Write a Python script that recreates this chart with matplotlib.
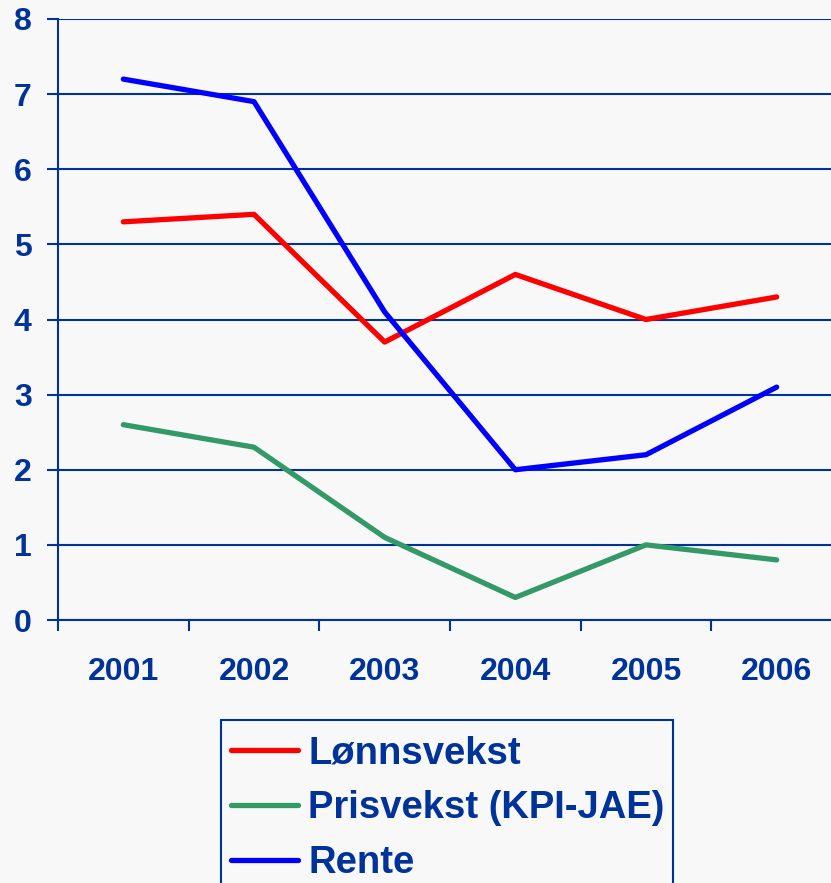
import matplotlib.pyplot as plt
from matplotlib.patches import Rectangle
from matplotlib.ticker import FixedLocator

# Data
years = ["2001", "2002", "2003", "2004", "2005", "2006"]
lonnsvekst = [5.3, 5.4, 3.7, 4.6, 4.0, 4.3]
prisvekst = [2.6, 2.3, 1.1, 0.3, 1.0, 0.8]
rente = [7.2, 6.9, 4.1, 2.0, 2.2, 3.1]

series_labels = ["Lønnsvekst", "Prisvekst (KPI-JAE)", "Rente"]
series_colors = ["#FF0000", "#339966", "#0000FF"]

BG = "#F8F8F8"
NAVY = "#003399"
W, H = 831, 883

plt.rcParams["font.family"] = ["Liberation Sans", "DejaVu Sans"]
plt.rcParams["font.weight"] = "bold"

fig = plt.figure(figsize=(W / 100, H / 100), dpi=100, facecolor=BG)
# Plot area runs past the right edge of the picture, like the original crop
ax = fig.add_axes([58 / W, 1 - 620 / H, (842 - 58) / W, (620 - 19) / H])
ax.set_facecolor(BG)

xs = [i + 0.5 for i in range(len(years))]
for vals, lab, col in zip([lonnsvekst, prisvekst, rente], series_labels, series_colors):
    ax.plot(xs, vals, color=col, lw=3.8, label=lab,
            solid_capstyle="round", solid_joinstyle="round", zorder=3)

ax.set_xlim(0, 6)
ax.set_ylim(0, 8)

# Y axis: gridlines at each integer
ax.set_yticks(range(0, 9))
ax.yaxis.grid(True, color=NAVY, lw=1.5)
ax.tick_params(axis="y", length=8, width=1.5, color=NAVY, labelcolor=NAVY,
               labelsize=23, pad=11)

# X axis: ticks on category boundaries, labels at centres
ax.xaxis.set_major_locator(FixedLocator(range(0, 7)))
ax.xaxis.set_minor_locator(FixedLocator(xs))
ax.set_xticklabels([])
ax.set_xticklabels(years, minor=True)
ax.tick_params(axis="x", which="major", length=8, width=1.5, color=NAVY)
ax.tick_params(axis="x", which="minor", length=0, labelcolor=NAVY,
               labelsize=23, pad=27)

for side in ["top", "right"]:
    ax.spines[side].set_visible(False)
for side in ["left", "bottom"]:
    ax.spines[side].set_color(NAVY)
    ax.spines[side].set_linewidth(1.5)
ax.set_axisbelow(True)

# Legend box: runs off the bottom of the picture, as in the original
fig.add_artist(Rectangle((221 / W, -0.05), (673 - 221) / W, 1 - 720 / H + 0.05,
                         transform=fig.transFigure, fill=False,
                         edgecolor=NAVY, lw=1.5))

handles, labels = ax.get_legend_handles_labels()
fig.legend(handles, labels, loc="upper left",
           bbox_to_anchor=(231 / W, 1 - 735 / H), borderaxespad=0,
           prop={"size": 27.5, "weight": "bold"}, labelcolor=NAVY,
           handlelength=1.75, handletextpad=0.27, borderpad=0,
           labelspacing=0.5, frameon=False)

fig.savefig("out.png", dpi=100, facecolor=BG)
